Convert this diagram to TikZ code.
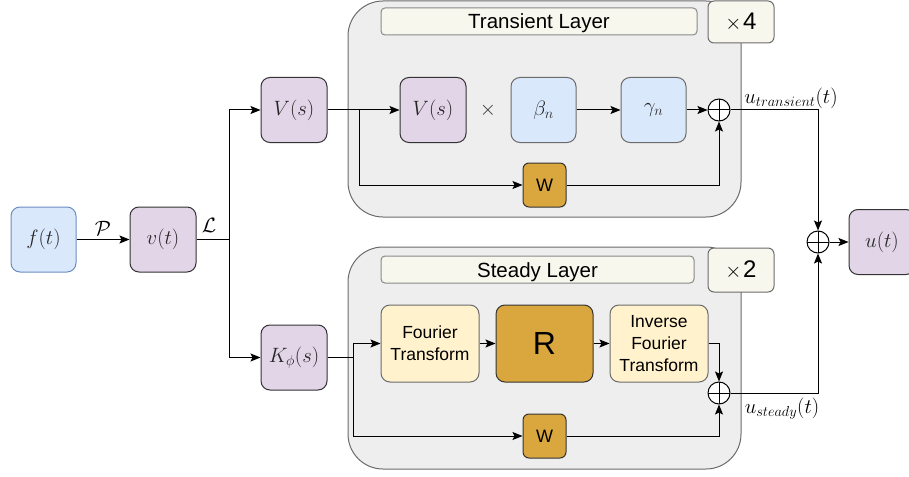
\documentclass[tikz,border=0pt]{standalone}
\usepackage{amsmath}
\usepackage{fontspec}
\setsansfont{Liberation Sans}
\usetikzlibrary{arrows.meta, positioning, calc}
\definecolor{cblue}{HTML}{DAE8FC}
\definecolor{cblueline}{HTML}{6C8EBF}
\definecolor{cpurple}{HTML}{E1D5E7}
\definecolor{cyellow}{HTML}{FFF2CC}
\definecolor{cgold}{HTML}{DAA73E}
\definecolor{cpanel}{HTML}{EEEEEE}
\definecolor{ccream}{HTML}{F8F7EE}
\definecolor{cdark}{HTML}{333333}
\definecolor{cgray}{HTML}{6B6B6B}

\begin{document}
\begin{tikzpicture}[x=1pt, y=-1pt, line width=1pt,
  >={Stealth[length=10pt, width=8pt, inset=2pt]},
  blk/.style={draw=cdark, rounded corners=9pt, minimum width=66pt, minimum height=65pt,
    inner sep=0pt, font=\fontsize{20.5}{24}\selectfont, text=black!85},
  bluebox/.style={blk, fill=cblue, draw=cgray},
  inbox/.style={blk, fill=cblue, draw=cblueline},
  purplebox/.style={blk, fill=cpurple},
  fourier/.style={blk, fill=cyellow, draw=cgray, minimum width=98pt, minimum height=77pt,
    align=center, text=black, font=\sffamily\fontsize{17.5}{22}\selectfont},
  wbox/.style={draw=cdark, fill=cgold, rounded corners=6pt, minimum width=43pt,
    minimum height=44pt, inner sep=0pt, font=\sffamily\fontsize{18}{20}\selectfont},
  layerbox/.style={draw=cgray, fill=cpanel, rounded corners=35pt, inner sep=0pt},
  titlebox/.style={draw=cgray!80, fill=ccream, rounded corners=4pt, minimum height=27pt,
    inner sep=0pt, text height=15pt, text depth=0pt,
    font=\sffamily\fontsize{20.5}{24}\selectfont},
  repbox/.style={draw=cgray, fill=ccream, rounded corners=6pt, minimum width=66pt,
    inner sep=0pt},
  sumnode/.style={circle, draw=black, fill=white, minimum size=22pt, inner sep=0pt,
    path picture={\draw (path picture bounding box.north) -- (path picture bounding box.south)
      (path picture bounding box.west) -- (path picture bounding box.east);}},
  lbl/.style={font=\fontsize{20}{23}\selectfont, inner sep=1pt}
]
\useasboundingbox (0,0) rectangle (909,476);

% layer panels
\node[layerbox, minimum width=393pt, minimum height=216pt] (tlayer) at (544.5,109) {};
\node[layerbox, minimum width=393pt, minimum height=222pt] (slayer) at (544.5,358) {};
\node[titlebox, minimum width=316pt] (ttitle) at (539,21.5) {Transient Layer};
\node[titlebox, minimum width=313pt] (stitle) at (537.5,269.5) {Steady Layer};
\node[repbox, minimum height=42pt] (trep) at (741,22)
  {{\fontsize{20}{22}\selectfont$\times$}\,{\sffamily\fontsize{24}{26}\selectfont 4}};
\node[repbox, minimum height=44pt] (srep) at (741,270)
  {{\fontsize{20}{22}\selectfont$\times$}\,{\sffamily\fontsize{24}{26}\selectfont 2}};

% input side
\node[inbox, minimum width=65pt] (f) at (43.5,239.5) {$f(t)$};
\node[purplebox] (v) at (163,239.5) {$v(t)$};
\node[purplebox] (Vs) at (294,110) {$V(s)$};
\node[purplebox] (K) at (294,357.5) {$K_\phi(s)$};
\coordinate (split) at (229,239.5);

% transient branch
\node[purplebox] (Vin) at (433,110) {$V(s)$};
\node[lbl, text=black!80] (times) at (488,110) {$\times$};
\node[bluebox, minimum width=65pt] (beta) at (543.5,110) {$\beta_n$};
\node[bluebox, minimum width=65pt] (gamma) at (653.5,110) {$\gamma_n$};
\node[sumnode] (tsum) at (719,110) {};
\node[wbox] (tw) at (544.5,185) {W};
\coordinate (tsplit) at (359,110);

% steady branch
\node[fourier] (ft) at (430,343.5) {Fourier\\Transform};
\node[blk, fill=cgold, minimum width=97pt, minimum height=77pt, text=black,
  font=\sffamily\fontsize{32}{36}\selectfont] (R) at (544.5,343.5) {R};
\node[fourier] (ift) at (659,343.5) {Inverse\\Fourier\\Transform};
\node[sumnode] (ssum) at (719,393) {};
\node[wbox] (sw) at (544.5,436) {W};
\coordinate (ssplit) at (353,357.5);

% output
\node[sumnode] (osum) at (818,242) {};
\node[purplebox] (u) at (882,242) {$u(t)$};

% connectors
\draw[->] (f) -- node[lbl, above=3pt] {$\mathcal{P}$} (v);
\draw (v) -- (split);
\node[lbl] (Lcal) at (209,225) {$\mathcal{L}$};
\draw[->] (split) |- (Vs.west);
\draw[->] (split) |- (K.west);

\draw[->] (Vs) -- (Vin);
\draw[->] (tsplit) |- (tw.west);
\draw[->] (beta) -- (gamma);
\draw[->] (gamma) -- (tsum);
\draw[->] (tw.east) -| (tsum.south);
\draw[->] (tsum.east) -| (osum.north);
\node[lbl] (ut) at (791,98) {$u_{transient}(t)$};

\draw (K.east) -- (ssplit);
\draw[->] (ssplit) |- (ft.west);
\draw[->] (ssplit) |- (sw.west);
\draw[->] (ft) -- (R);
\draw[->] (R) -- (ift);
\draw[->] (ift.east) -| (ssum.north);
\draw[->] (sw.east) -| (ssum.south);
\draw[->] (ssum.east) -| (osum.south);
\node[lbl] (us) at (782,409) {$u_{steady}(t)$};

\draw[->] (osum) -- (u);
\end{tikzpicture}
\end{document}
